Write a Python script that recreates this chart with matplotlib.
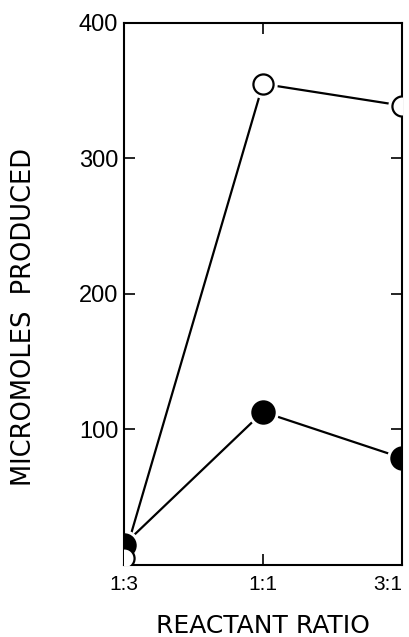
import matplotlib.pyplot as plt

# Data
ratios = ["1:3", "1:1", "3:1"]
open_values = [5, 355, 339]
filled_values = [15, 113, 79]
y_ticks = [100, 200, 300, 400]

plt.rcParams['font.family'] = ['Liberation Sans', 'DejaVu Sans']

fig = plt.figure(figsize=(4.09, 6.37), dpi=100)
ax = fig.add_axes([0.303, 0.113, 0.68, 0.851])

xpos = list(range(len(ratios)))

# lines, then white halos so lines stop short of markers, then markers
for vals, face, ms in [(filled_values, 'black', 16), (open_values, 'white', 14.5)]:
    ax.plot(xpos, vals, color='black', lw=1.6, zorder=1)
    ax.plot(xpos, vals, ls='none', marker='o', ms=ms + 6, mfc='white', mec='none', zorder=2)
    ax.plot(xpos, vals, ls='none', marker='o', ms=ms, mfc=face, mec='black', mew=1.6, zorder=3)

ax.set_xlim(0, 2)
ax.set_ylim(0, 400)
ax.set_xticks(xpos)
ax.set_xticklabels(ratios, fontsize=15)
ax.get_xticklabels()[-1].set_ha('right')
ax.set_yticks(y_ticks)
ax.set_yticklabels([str(v) for v in y_ticks], fontsize=17)

ax.tick_params(direction='in', length=8, width=1.2, top=True, right=True)
ax.tick_params(axis='x', pad=7)
ax.tick_params(axis='y', pad=4)
for s in ax.spines.values():
    s.set_linewidth(1.5)

ax.set_xlabel("REACTANT RATIO", fontsize=18, family='DejaVu Sans')
ax.xaxis.set_label_coords(0.5, -0.112)
ax.xaxis.label.set_va('center')
ax.set_ylabel("MICROMOLES  PRODUCED", fontsize=18.5, family='DejaVu Sans')
ax.yaxis.set_label_coords(-0.36, 0.458)
ax.yaxis.label.set_va('center')

fig.savefig("out.png", dpi=100)
